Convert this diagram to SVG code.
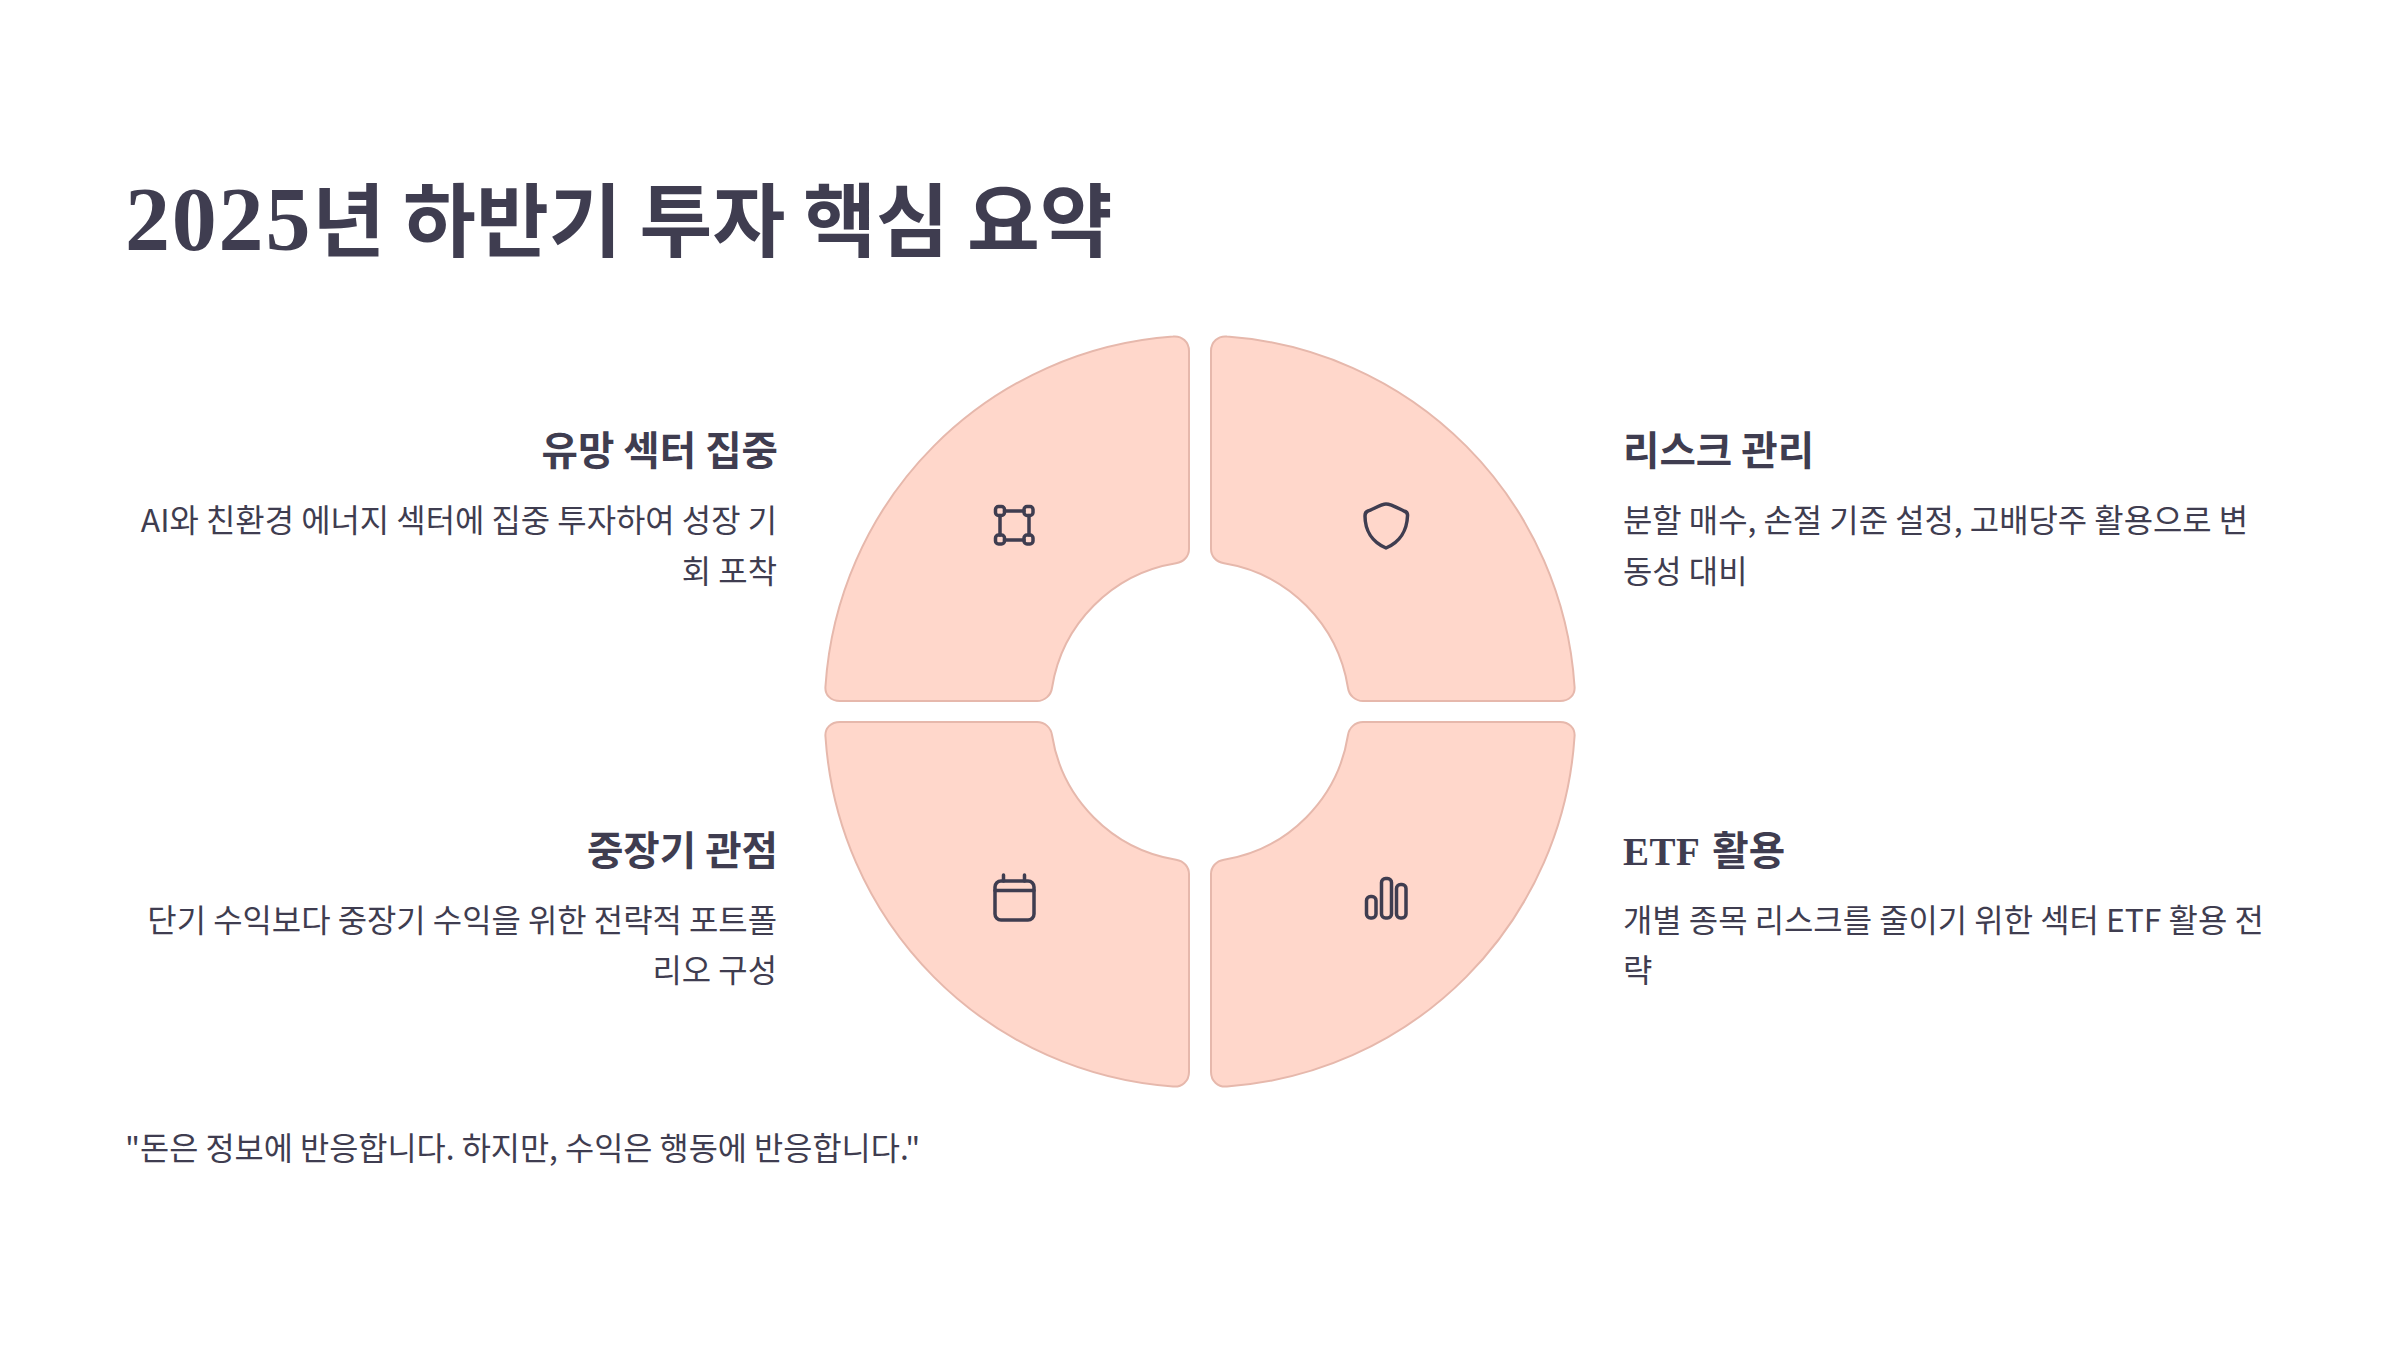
<svg xmlns="http://www.w3.org/2000/svg" width="2400" height="1350" viewBox="0 0 2400 1350">
<style>
text{font-family:"Noto Sans CJK KR","Noto Sans",sans-serif;fill:#3f3d50}
.t{font-size:79.200px;font-weight:700}
.h{font-size:39.600px;font-weight:700}
.b{font-size:31.900px;font-weight:400}
.r{text-anchor:end}
.s{font-family:"Liberation Serif",serif;font-weight:700}
.q{fill:#ffd7cb;stroke:#e6b8ac;stroke-width:2}
.i{fill:none;stroke:#3f3d50;stroke-width:3.500;stroke-linecap:round;stroke-linejoin:round}
</style>
<rect width="2400" height="1350" fill="#fff"/>
<text id="title" class="t" x="125" y="250"><tspan class="s" font-size="90" letter-spacing="1.800">2025</tspan>년 하반기 투자 핵심 요약</text>
<g id="q1">
<path class="q" d="M825.500 686 A375 375 0 0 1 1173 336.500 C1182 335.500 1189 342 1189 351 V549 C1189 556 1184 562 1176 563.300 A150 150 0 0 0 1052 688 C1051 695 1045 701 1037 701 H840 C831 701 824.500 695 825.500 686 Z"/>
<g class="i"><rect x="995.500" y="506.500" width="9" height="9" rx="3"/><rect x="1024" y="506.500" width="9" height="9" rx="3"/><rect x="995.500" y="535" width="9" height="9" rx="3"/><rect x="1024" y="535" width="9" height="9" rx="3"/><path d="M1004.500 511H1024M1000 515.500V535M1029 515.500V535M1004.500 540H1024"/></g>
<text class="h r" x="778" y="465">유망 섹터 집중</text>
<text class="b r" x="777" y="532">AI와 친환경 에너지 섹터에 집중 투자하여 성장 기</text>
<text class="b r" x="777" y="583">회 포착</text>
</g>
<g id="q2">
<path class="q" d="M1574.500 686 A375 375 0 0 0 1227 336.500 C1218 335.500 1211 342 1211 351 V549 C1211 556 1216 562 1224 563.300 A150 150 0 0 1 1348 688 C1349 695 1355 701 1363 701 H1560 C1569 701 1575.500 695 1574.500 686 Z"/>
<path class="i" d="M1386 504 C1392 504 1401 510 1404 511 Q1408 512 1407.500 516 C1407 530 1400 542 1386 548 C1372 542 1365 530 1365 516 Q1365 512 1368 511 C1372 510 1381 504 1386 504Z"/>
<text class="h" x="1623" y="465">리스크 관리</text>
<text class="b" x="1623" y="532">분할 매수, 손절 기준 설정, 고배당주 활용으로 변</text>
<text class="b" x="1623" y="583">동성 대비</text>
</g>
<g id="q3">
<path class="q" d="M825.500 737 A375 375 0 0 0 1173 1086.500 C1182 1087.500 1189 1081 1189 1072 V874 C1189 867 1184 861 1176 859.700 A150 150 0 0 1 1052 735 C1051 728 1045 722 1037 722 H840 C831 722 824.500 728 825.500 737 Z"/>
<g class="i"><rect x="995" y="881" width="39" height="39" rx="6"/><path d="M995 890.500H1034M1003.500 875V881M1024.500 875V881"/></g>
<text class="h r" x="778" y="865">중장기 관점</text>
<text class="b r" x="777" y="932">단기 수익보다 중장기 수익을 위한 전략적 포트폴</text>
<text class="b r" x="777" y="982">리오 구성</text>
</g>
<g id="q4">
<path class="q" d="M1574.500 737 A375 375 0 0 1 1227 1086.500 C1218 1087.500 1211 1081 1211 1072 V874 C1211 867 1216 861 1224 859.700 A150 150 0 0 0 1348 735 C1349 728 1355 722 1363 722 H1560 C1569 722 1575.500 728 1574.500 737 Z"/>
<g class="i"><rect x="1366.500" y="896.500" width="9.500" height="21.500" rx="4"/><rect x="1381.500" y="878.500" width="10" height="39.500" rx="4"/><rect x="1396.500" y="884.500" width="9.500" height="33.500" rx="4"/></g>
<text class="h" x="1623" y="865"><tspan class="s" font-size="39" letter-spacing="0.500">ETF</tspan><tspan dx="3"> 활용</tspan></text>
<text class="b" x="1623" y="932">개별 종목 리스크를 줄이기 위한 섹터 ETF 활용 전</text>
<text class="b" x="1623" y="982">략</text>
</g>
<text id="quote" x="125" y="1160" style="font-size:31.700px">"돈은 정보에 반응합니다. 하지만, 수익은 행동에 반응합니다."</text>
</svg>
